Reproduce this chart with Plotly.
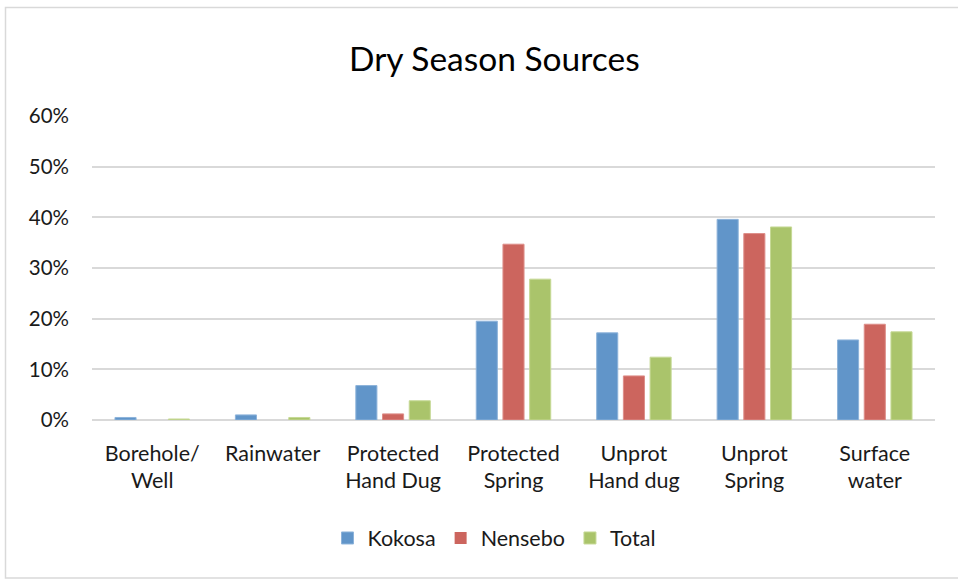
import plotly.graph_objects as go

# Water source categories (two-line tick labels)
categories = ["Borehole/<br>Well", "Rainwater", "Protected<br>Hand Dug", "Protected<br>Spring",
              "Unprot<br>Hand dug", "Unprot<br>Spring", "Surface<br>water"]

# Share of households using each source in the dry season
kokosa = [0.005, 0.010, 0.068, 0.195, 0.172, 0.396, 0.158]
nensebo = [0.000, 0.000, 0.012, 0.347, 0.087, 0.368, 0.189]
total = [0.002, 0.005, 0.038, 0.278, 0.124, 0.381, 0.174]

y_ticks = [0, 0.1, 0.2, 0.3, 0.4, 0.5, 0.6]

FONT = "Lato"
TXT = "#1a1a1a"
series = [
    ("Kokosa", kokosa, "#6195C9", "#8DB3DA"),
    ("Nensebo", nensebo, "#CC655E", "#DE8F8A"),
    ("Total", total, "#AAC46B", "#C6D996"),
]

fig = go.Figure()
for name, vals, fill, edge in series:
    fig.add_trace(go.Bar(
        x=categories, y=vals, name=name,
        marker=dict(color=fill,
                    line=dict(color=edge, width=[0 if v == 0 else 1 for v in vals])),
    ))

W, H = 958, 582
L, R, T, B = 92, 23, 116, 162
pw, ph = W - L - R, H - T - B

def px_x(p):
    return (p - L) / pw

def px_y(p):
    return (H - B - p) / ph

fig.update_layout(
    width=W, height=H,
    margin=dict(l=L, r=R, t=T, b=B, pad=0),
    paper_bgcolor="white", plot_bgcolor="white",
    barmode="group", bargap=0.335, bargroupgap=0.21,
    font=dict(family=FONT, size=20, color=TXT),
    showlegend=True,
    legend=dict(orientation="h", x=px_x(494), xanchor="center", y=px_y(538), yanchor="middle",
                font=dict(family=FONT, size=21.5, color=TXT), traceorder="normal",
                itemclick=False),
    xaxis=dict(showgrid=False, showline=False, ticks="", zeroline=False,
               ticklabelstandoff=18,
               tickfont=dict(family=FONT, size=21.5, color=TXT)),
    yaxis=dict(range=[0, 0.6], tickvals=y_ticks, tickformat=".0%",
               showgrid=True, gridcolor="#D9D9D9", gridwidth=1.5,
               zeroline=True, zerolinecolor="#D9D9D9", zerolinewidth=1.5,
               showline=False, ticks="", ticklabelstandoff=22,
               tickfont=dict(family=FONT, size=20.5, color=TXT)),
    annotations=[dict(text="Dry Season Sources", xref="paper", yref="paper",
                      x=px_x(494.5), y=px_y(58), xanchor="center", yanchor="middle",
                      showarrow=False, font=dict(family=FONT, size=33.5, color="#000000"))],
    shapes=[dict(type="rect", xref="paper", yref="paper", layer="below",
                 x0=px_x(5.5), x1=px_x(965), y0=px_y(578), y1=px_y(7.5),
                 line=dict(color="#D9D9D9", width=1.5), fillcolor="rgba(0,0,0,0)")],
)

fig.write_html("out.html")
